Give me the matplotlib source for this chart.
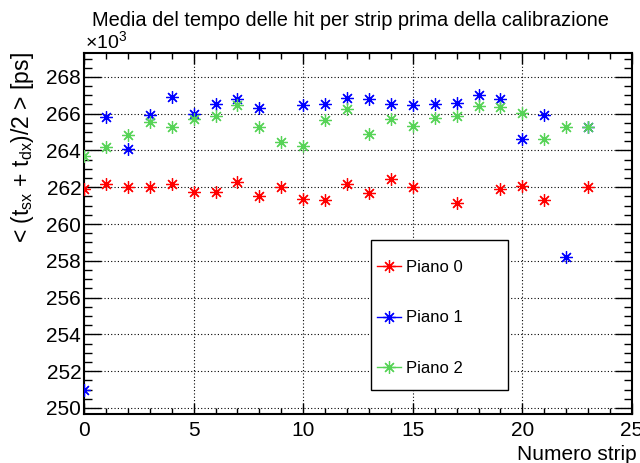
import matplotlib
matplotlib.use("Agg")
import matplotlib.pyplot as plt
from matplotlib.lines import Line2D
from matplotlib.patches import Rectangle
from matplotlib.ticker import MultipleLocator

plt.rcParams['font.family'] = ['Liberation Sans', 'DejaVu Sans']
plt.rcParams['mathtext.fontset'] = 'custom'
plt.rcParams['mathtext.rm'] = 'Liberation Sans'
plt.rcParams['mathtext.it'] = 'Liberation Sans:italic'

# mean hit time per strip, in units of 10^3 ps
strip_0 = [0, 1, 2, 3, 4, 5, 6, 7, 8, 9, 10, 11, 12, 13, 14, 15, 17, 19, 20, 21, 23]
piano_0 = [261.9, 262.2, 262.0, 262.0, 262.2, 261.75, 261.75, 262.3, 261.5, 262.0,
           261.35, 261.3, 262.2, 261.7, 262.45, 262.0, 261.15, 261.9, 262.05,
           261.3, 262.0]

strip_1 = [0, 1, 2, 3, 4, 5, 6, 7, 8, 10, 11, 12, 13, 14, 15, 16, 17, 18, 19, 20,
           21, 22, 23]
piano_1 = [251.0, 265.8, 264.1, 265.95, 266.9, 266.0, 266.55, 266.8, 266.3, 266.45,
           266.55, 266.85, 266.8, 266.5, 266.45, 266.55, 266.6, 267.0, 266.8, 264.6,
           265.95, 258.2, 265.3]

strip_2 = list(range(24))
piano_2 = [263.7, 264.2, 264.85, 265.55, 265.3, 265.7, 265.9, 266.45, 265.3, 264.45,
           264.25, 265.65, 266.25, 264.9, 265.7, 265.35, 265.75, 265.9, 266.4, 266.35,
           266.05, 264.6, 265.3, 265.3]

labels = ["Piano 0", "Piano 1", "Piano 2"]
colors = ["#ff0000", "#0000ff", "#57d357"]
ASTERISK = (8, 2, 0)


def main():
    fig = plt.figure(figsize=(6.4, 4.63), dpi=100)
    ax = fig.add_axes([84 / 640, 1 - 414 / 463, 548 / 640, 361 / 463])

    series = [(strip_0, piano_0), (strip_1, piano_1), (strip_2, piano_2)]
    for (xs, ys), c in zip(series, colors):
        ax.plot(xs, ys, linestyle="none", marker=ASTERISK, markersize=9,
                markeredgewidth=0.9, color=c, zorder=3)

    ax.set_xlim(0, 25)
    ax.set_ylim(249.67, 269.3)
    ax.xaxis.set_major_locator(MultipleLocator(5))
    ax.xaxis.set_minor_locator(MultipleLocator(1))
    ax.yaxis.set_major_locator(MultipleLocator(2))
    ax.yaxis.set_minor_locator(MultipleLocator(0.5))
    ax.yaxis.set_major_formatter(lambda v, p: f"{v:.0f}")

    ax.tick_params(axis="both", which="both", direction="in", top=True,
                   right=True, labelsize=15, width=1)
    ax.tick_params(axis="y", which="major", length=12, pad=2)
    ax.tick_params(axis="y", which="minor", length=6)
    ax.tick_params(axis="x", which="major", length=8, pad=5)
    ax.tick_params(axis="x", which="minor", length=4)
    for s in ax.spines.values():
        s.set_linewidth(1.5)

    ax.grid(True, which="major", color="black", linestyle=(0, (1, 2)),
            linewidth=0.8, zorder=0)
    ax.set_axisbelow(True)

    # legend box
    ax.add_patch(Rectangle((0.524, 0.0667), 0.25, 0.416, transform=ax.transAxes,
                           facecolor="white", edgecolor="black", linewidth=1,
                           zorder=4))
    handles = [Line2D([], [], color=c, marker=ASTERISK, markersize=9,
                      markeredgewidth=0.9, linewidth=1) for c in colors]
    leg = ax.legend(handles, labels, loc="upper left",
                    bbox_to_anchor=((376.7 - 84) / 548, (414 - 260) / 361),
                    frameon=False, borderpad=0, borderaxespad=0,
                    handlelength=1.45, handletextpad=0.3, labelspacing=2.12,
                    fontsize=12)
    leg.set_zorder(5)

    fig.text(350 / 640, 1 - 21 / 463,
             "Media del tempo delle hit per strip prima della calibrazione",
             ha="center", va="center", fontsize=14.4)
    fig.text(85 / 640, 1 - 48 / 463, "×10$^{3}$", ha="left", va="baseline",
             fontsize=14)
    fig.text(23 / 640, 1 - 52 / 463,
             r"< (t$_{\mathrm{sx}}$ + t$_{\mathrm{dx}}$)/2 > [ps]",
             rotation=90, ha="center", va="top", fontsize=16.5)
    fig.text(637 / 640, 1 - 455 / 463, "Numero strip", ha="right",
             va="center", fontsize=15)

    fig.savefig("out.png", dpi=100)
    return 0


if __name__ == "__main__":
    main()
